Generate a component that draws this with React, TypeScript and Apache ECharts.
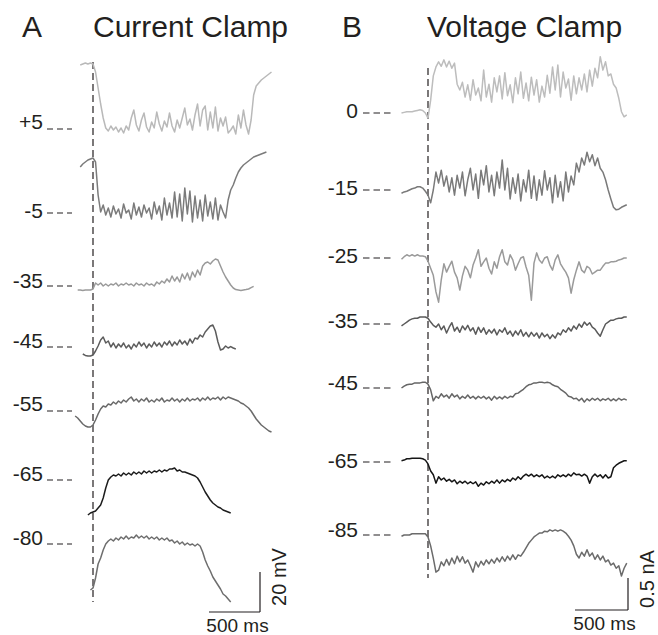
import React, { useEffect, useRef } from "react";
import * as echarts from "echarts";

const W = 658;
const H = 635;
const DT = 25;

// ---------- Panel A : Current clamp (membrane potential, mV) ----------
const A_LABELS = ["+5", "-5", "-35", "-45", "-55", "-65", "-80"];
const A_LEVELS = [5, -5, -35, -45, -55, -65, -80];
const A_STARTS = [-125, -125, -150, -100, -175, -50, -25];

const A_P5 = [37, 37.5, 38, 37.5, 38, 37.5, 33.5, 25.5, 17.5, 10.5, 5.5, 4, 6.5, 4.5, 6, 3.5, 5.5, 3, 6.5, 4.5, 10.5, 14.5, 7, 4, 9.5, 13, 6, 3.5, 8.5, 5.5, 13.5, 7.5, 4, 9, 6, 13, 6.5, 3.5, 9.5, 5.5, 10.5, 15.5, 7, 10, 4.5, 12, 17.5, 6.5, 14.5, 16.5, 4.5, 13.5, 5.5, 16, 4, 10.5, 6.5, 11, 3, 4.5, 6.5, 2.5, 12, 5.5, 14.5, 7, 2.5, 9.5, 22, 26.5, 28, 29.5, 30.5, 31.5, 32.5, 33.5];
const A_M5 = [18, 19.5, 20.5, 21.5, 22, 22.5, 20.5, 4, -4.5, -1, -6, -2.5, -7, -1.5, -5.5, -3, -7.5, -0.5, -5, -3.5, -8, 0, -6, -2, -7, -1, -5, -2.5, -8, 0.5, -5.5, -1.5, -8.5, 2.5, -6, 0, -7.5, 5.5, -7, 4.5, -9, 7.5, -5.5, 6, -9.5, 3.5, -7.5, 1.5, -9, 4, -6.5, 0.5, -8, 2.5, -8.5, -1, -4.5, -7.5, 1.5, 6.5, 9, 12.5, 15.5, 17.5, 19, 20, 21, 22, 23, 23.5, 24, 24.5, 25, 25.5];
const A_M35 = [-37, -37, -37.2, -37, -37, -37, -36.5, -33.5, -34.5, -33.5, -35, -34, -35, -34, -34.5, -33.5, -35, -34, -34.5, -33.5, -34.5, -34, -35, -33.5, -34.5, -34, -35, -33.5, -34.5, -34, -35, -33, -34, -32.5, -33.5, -31.5, -33, -30, -32.5, -30.5, -33, -29, -31.5, -28.5, -32, -28, -30.5, -27, -29.5, -25, -23.5, -23, -24, -22.5, -21.5, -22, -25, -28, -30.5, -32.5, -34.5, -36, -36.8, -37, -37.2, -37, -36.8, -36.5, -35.8, -35.2];
const A_M45 = [-48.5, -49.2, -49.5, -49.5, -49, -47, -44.5, -41.5, -40, -43, -42, -45, -43, -45.5, -43.5, -45, -43, -45.5, -44, -46, -43.5, -45, -42.5, -44.5, -43, -45.5, -43.5, -45, -42.5, -44.5, -43, -45, -42.5, -44, -42, -44.5, -42.5, -44, -41.5, -43.5, -42, -44, -41, -43, -40.5, -41, -39, -40, -37.5, -36, -34.5, -34, -37, -42.5, -46.5, -46, -44.5, -45.5, -44.8, -45.5, -46];
const A_M55 = [-57.5, -58.5, -60, -61.5, -62.5, -63, -63, -62, -59.5, -56.5, -54, -52.5, -53, -51.5, -52, -50.5, -51.5, -50, -51, -49.5, -50.5, -49, -48, -50, -49, -50.5, -49, -50, -48.5, -50.5, -49.5, -50.5, -49, -50, -48.5, -50.5, -49.5, -50, -48.5, -50, -49, -50.5, -49, -50, -48.5, -50, -49, -49.5, -48.5, -50, -48.5, -49.5, -48, -49.5, -48.5, -49, -48, -49.5, -48, -49, -48, -48.5, -49, -49.5, -50, -51, -51.5, -52.5, -53.5, -55, -57, -59, -60.5, -62, -63, -64, -65, -65.5];
const A_M65 = [-82.5, -81.5, -81, -80.5, -79, -77.5, -74, -69, -65, -63.5, -62.5, -63, -62, -63, -61.5, -62.5, -61.5, -62.5, -61, -62, -61, -62, -60.5, -61.5, -60.5, -61.5, -60.5, -61, -60, -61, -60, -60.5, -59.5, -59.5, -59, -60.5, -60, -61, -61, -61.5, -62, -62.5, -63, -64, -66, -68.5, -71, -73, -75, -76.5, -77.5, -78.5, -79, -80, -80.5, -81, -81.5];
const A_M80 = [-103, -102, -97, -90, -87, -83, -80, -78.5, -77.5, -78.5, -77, -78, -76.5, -77.5, -76, -77.5, -76.5, -77, -75.5, -77, -76, -77, -76, -77.5, -76.5, -77.5, -76.5, -78, -77, -78, -77, -78.5, -78, -79.5, -78.5, -80, -79, -80.5, -79.5, -80.5, -80, -81, -80, -81, -84, -88, -91, -93.5, -96.5, -98.5, -100.5, -102.5, -105, -106, -107.5, -109];
const A_VALUES = [A_P5, A_M5, A_M35, A_M45, A_M55, A_M65, A_M80];

// ---------- Panel B : Voltage clamp (current relative to holding, nA) ----------
const B_LABELS = ["0", "-15", "-25", "-35", "-45", "-65", "-85"];
const B_START = -250;

const B_0 = [0, 0.01, 0.02, 0.02, 0.02, 0.03, 0.04, 0.05, 0.04, 0, -0.08, 0.2, 0.58, 0.72, 0.8, 0.73, 0.83, 0.72, 0.81, 0.7, 0.78, 0.45, 0.36, 0.48, 0.25, 0.44, 0.2, 0.52, 0.28, 0.39, 0.19, 0.67, 0.25, 0.45, 0.17, 0.55, 0.33, 0.58, 0.22, 0.63, 0.27, 0.44, 0.16, 0.55, 0.3, 0.64, 0.23, 0.47, 0.19, 0.56, 0.28, 0.52, 0.17, 0.42, 0.25, 0.59, 0.31, 0.72, 0.36, 0.75, 0.25, 0.64, 0.39, 0.53, 0.2, 0.58, 0.3, 0.55, 0.36, 0.61, 0.33, 0.67, 0.42, 0.7, 0.55, 0.88, 0.67, 0.8, 0.58, 0.61, 0.45, 0.39, 0.23, 0.02, -0.06, -0.03];
const B_M15 = [-0.05, -0.03, -0.02, 0, 0.02, 0.03, 0.05, 0.05, 0.03, -0.02, -0.08, -0.2, 0, 0.28, 0.11, 0.31, 0.06, 0.22, -0.03, 0.19, -0.08, 0.23, 0.03, 0.28, -0.09, 0.16, 0.34, 0, 0.25, -0.13, 0.31, 0.08, 0.38, -0.03, 0.23, -0.09, 0.28, 0.03, 0.47, 0, 0.34, -0.14, 0.19, -0.05, 0.25, -0.17, 0.16, -0.03, 0.31, -0.13, 0.22, -0.16, 0.16, -0.08, 0.3, 0, 0.19, -0.2, 0.23, -0.11, 0.13, -0.17, 0.28, -0.03, 0.22, 0.08, 0.42, 0.28, 0.5, 0.39, 0.59, 0.44, 0.55, 0.38, 0.5, 0.34, 0.28, 0.16, 0, -0.14, -0.27, -0.31, -0.3, -0.27, -0.25, -0.23];
const B_M25 = [-0.02, 0.02, 0.05, 0.03, 0.05, 0.03, 0.05, 0.03, 0.03, 0.02, -0.05, -0.16, -0.27, -0.53, -0.69, -0.34, -0.09, -0.22, -0.13, -0.05, -0.22, -0.31, -0.5, -0.28, -0.13, -0.19, -0.31, -0.11, 0, 0.13, -0.13, -0.06, 0, -0.16, -0.25, -0.06, -0.16, 0.02, 0.13, -0.06, -0.11, 0.05, -0.03, -0.19, -0.09, 0, 0.02, -0.14, -0.27, -0.66, -0.08, 0.08, -0.03, -0.08, 0, 0.02, -0.11, -0.19, -0.03, 0.05, -0.09, -0.16, -0.22, -0.31, -0.55, -0.34, -0.19, -0.06, -0.19, -0.23, -0.13, -0.16, -0.25, -0.22, -0.19, -0.19, -0.13, -0.08, -0.08, -0.06, -0.06, -0.05, -0.03, -0.02, 0, 0];
const B_M35 = [-0.03, 0, 0.03, 0.06, 0.08, 0.09, 0.09, 0.11, 0.11, 0.11, 0.09, 0.03, -0.02, -0.05, 0, -0.09, -0.03, -0.14, -0.05, 0.02, -0.11, -0.05, -0.13, -0.03, -0.09, -0.02, -0.11, -0.06, -0.16, -0.05, -0.13, -0.06, -0.16, -0.09, -0.14, -0.08, -0.17, -0.09, -0.13, -0.06, -0.16, -0.11, -0.19, -0.11, -0.17, -0.09, -0.19, -0.13, -0.2, -0.13, -0.19, -0.14, -0.22, -0.14, -0.2, -0.16, -0.23, -0.17, -0.22, -0.14, -0.17, -0.09, -0.13, -0.06, -0.11, -0.03, -0.08, 0, -0.05, 0.03, -0.02, 0.02, -0.05, -0.08, -0.14, -0.19, -0.09, 0, 0.03, 0.06, 0.06, 0.08, 0.09, 0.09, 0.11, 0.11];
const B_M45 = [0, 0.03, 0.05, 0.06, 0.06, 0.08, 0.08, 0.08, 0.09, 0.09, 0.06, -0.03, -0.2, -0.13, -0.16, -0.09, -0.14, -0.11, -0.16, -0.09, -0.14, -0.11, -0.17, -0.13, -0.16, -0.11, -0.16, -0.13, -0.17, -0.13, -0.16, -0.13, -0.17, -0.14, -0.19, -0.13, -0.17, -0.14, -0.17, -0.13, -0.16, -0.13, -0.14, -0.09, -0.08, -0.05, -0.02, 0.02, 0.05, 0.06, 0.08, 0.08, 0.09, 0.09, 0.08, 0.09, 0.08, 0.05, 0.03, 0.02, -0.02, -0.05, -0.08, -0.13, -0.14, -0.17, -0.16, -0.2, -0.16, -0.22, -0.17, -0.2, -0.16, -0.19, -0.16, -0.2, -0.17, -0.19, -0.16, -0.2, -0.17, -0.2, -0.16, -0.19, -0.17, -0.19];
const B_M65 = [0.02, 0.03, 0.05, 0.05, 0.06, 0.06, 0.06, 0.06, 0.05, 0.03, -0.03, -0.14, -0.2, -0.33, -0.23, -0.28, -0.25, -0.3, -0.27, -0.31, -0.28, -0.34, -0.3, -0.33, -0.3, -0.34, -0.31, -0.34, -0.31, -0.38, -0.33, -0.36, -0.31, -0.34, -0.3, -0.33, -0.28, -0.33, -0.28, -0.31, -0.27, -0.3, -0.25, -0.28, -0.23, -0.27, -0.22, -0.19, -0.22, -0.19, -0.23, -0.2, -0.23, -0.2, -0.25, -0.22, -0.25, -0.22, -0.25, -0.2, -0.23, -0.2, -0.23, -0.19, -0.22, -0.17, -0.2, -0.19, -0.22, -0.19, -0.22, -0.33, -0.23, -0.19, -0.23, -0.2, -0.25, -0.2, -0.25, -0.23, -0.09, -0.05, -0.02, 0, 0.02, 0.02];
const B_M85 = [-0.02, 0, 0, 0, 0.02, 0.02, 0.02, 0.02, 0.02, 0.02, -0.03, -0.17, -0.36, -0.58, -0.55, -0.42, -0.48, -0.38, -0.47, -0.36, -0.45, -0.33, -0.42, -0.34, -0.44, -0.39, -0.48, -0.58, -0.42, -0.5, -0.41, -0.47, -0.39, -0.45, -0.38, -0.44, -0.36, -0.42, -0.34, -0.41, -0.33, -0.39, -0.31, -0.38, -0.31, -0.33, -0.27, -0.2, -0.13, -0.08, -0.03, 0, 0.03, 0.03, 0.06, 0.05, 0.08, 0.06, 0.08, 0.06, 0.08, 0.06, 0.03, -0.02, -0.08, -0.17, -0.3, -0.36, -0.27, -0.33, -0.23, -0.33, -0.28, -0.38, -0.31, -0.39, -0.33, -0.42, -0.39, -0.47, -0.44, -0.52, -0.48, -0.64, -0.52, -0.44];
const B_VALUES = [B_0, B_M15, B_M25, B_M35, B_M45, B_M65, B_M85];

// ---------- Layout & style ----------
const A_COLORS = ["#b9b9b9", "#7b7b7b", "#9a9a9a", "#5c5c5c", "#6a6a6a", "#1c1c1c", "#6e6e6e"];
const B_COLORS = ["#bdbdbd", "#7a7a7a", "#9a9a9a", "#5a5a5a", "#666666", "#161616", "#6b6b6b"];
const A_ROW_Y = [129, 213, 286, 347, 411, 480, 544];
const B_ROW_Y = [113, 190, 258, 324, 388, 462, 535];
const A_LABEL_DY = [-7.5, -3, -6, -7, -7.5, -7, -7];
const B_LABEL_DY = [-3, -3, -3, -4, -6, -2, -6];

const PANEL_A = {
  stimX: 93, pxPerMs: 0.102, pxPerUnit: 2, tMin: -500, tMax: 1900,
  dashX: [47, 72], dashPattern: [6, 4], labelRight: 43, stimY: [62, 602],
  barCorner: [260, 612], barT: 500, barV: 20, barVText: "20 mV",
  letter: "A", letterX: 22, title: "Current Clamp", titleX: 93,
};
const PANEL_B = {
  stimX: 428, pxPerMs: 0.106, pxPerUnit: 64, tMin: -700, tMax: 2000,
  dashX: [363, 392], dashPattern: [6.5, 4], labelRight: 358, stimY: [68, 578],
  barCorner: [628, 610], barT: 500, barV: 0.5, barVText: "0.5 nA",
  letter: "B", letterX: 342, title: "Voltage Clamp", titleX: 427,
};

const INK = "#231f20";
const FONT = '"Liberation Sans", Arial, Helvetica, sans-serif';

function toPairs(start: number, values: number[]) {
  return values.map((v, i) => [start + DT * i, v]);
}

export default function App() {
  const ref = useRef<HTMLDivElement>(null);

  useEffect(() => {
    document.body.style.margin = "0";
    const chart = echarts.init(ref.current as HTMLDivElement, undefined, {
      renderer: "svg",
      width: W,
      height: H,
    });

    type Tr = { panel: any; level: number; rowY: number; labelDy: number; label: string; color: string; data: number[][] };
    const traces: Tr[] = [];
    A_VALUES.forEach((vals, i) =>
      traces.push({ panel: PANEL_A, level: A_LEVELS[i], rowY: A_ROW_Y[i], labelDy: A_LABEL_DY[i], label: A_LABELS[i], color: A_COLORS[i], data: toPairs(A_STARTS[i], vals) })
    );
    B_VALUES.forEach((vals, i) =>
      traces.push({ panel: PANEL_B, level: 0, rowY: B_ROW_Y[i], labelDy: B_LABEL_DY[i], label: B_LABELS[i], color: B_COLORS[i], data: toPairs(B_START, vals) })
    );

    const grid = traces.map((tr) => ({
      left: tr.panel.stimX + tr.panel.tMin * tr.panel.pxPerMs,
      width: (tr.panel.tMax - tr.panel.tMin) * tr.panel.pxPerMs,
      top: 0,
      height: H,
      containLabel: false,
    }));
    const xAxis = traces.map((tr, i) => ({
      type: "value", gridIndex: i, min: tr.panel.tMin, max: tr.panel.tMax, show: false,
    }));
    const yAxis = traces.map((tr, i) => ({
      type: "value", gridIndex: i, show: false, scale: true,
      max: tr.level + tr.rowY / tr.panel.pxPerUnit,
      min: tr.level - (H - tr.rowY) / tr.panel.pxPerUnit,
    }));
    const series = traces.map((tr, i) => ({
      type: "line", xAxisIndex: i, yAxisIndex: i, data: tr.data,
      symbol: "none", showSymbol: false, silent: true, clip: false,
      lineStyle: { color: tr.color, width: 1.5, join: "round" },
    }));

    chart.setOption({ animation: false, grid, xAxis, yAxis, series });

    const g: any[] = [];
    const text = (t: string, x: number, y: number, size: number, align: string, rotation = 0) => ({
      type: "text", x, y, rotation, silent: true,
      style: {
        text: t, font: `${size}px ${FONT}`, fill: INK,
        align, verticalAlign: "middle", textAlign: align, textVerticalAlign: "middle",
      },
    });
    const line = (x1: number, y1: number, x2: number, y2: number, dash?: number[]) => ({
      type: "line", silent: true,
      shape: { x1, y1, x2, y2 },
      style: { stroke: INK, lineWidth: 1.2, lineDash: dash || null },
    });

    // reference-level dashes and labels
    traces.forEach((tr, i) => {
      const p = chart.convertToPixel({ gridIndex: i }, [0, tr.level]) as number[];
      const y = p[1];
      g.push(line(tr.panel.dashX[0], y, tr.panel.dashX[1], y, tr.panel.dashPattern));
      g.push(text(tr.label, tr.panel.labelRight, y + tr.labelDy, 21, "right"));
    });

    [PANEL_A, PANEL_B].forEach((panel) => {
      const gi = traces.map((t) => t.panel).lastIndexOf(panel);
      const origin = chart.convertToPixel({ gridIndex: gi }, [0, 0]) as number[];
      const tEnd = chart.convertToPixel({ gridIndex: gi }, [panel.barT, 0]) as number[];
      const vEnd = chart.convertToPixel({ gridIndex: gi }, [0, panel.barV]) as number[];
      const lenX = tEnd[0] - origin[0];
      const lenY = origin[1] - vEnd[1];
      // stimulus onset
      g.push(line(origin[0], panel.stimY[0], origin[0], panel.stimY[1], [7, 4]));
      // scale bars
      const [cx, cy] = panel.barCorner;
      g.push(line(cx - lenX, cy, cx, cy));
      g.push(line(cx, cy - lenY, cx, cy));
      g.push(text(`${panel.barT} ms`, cx - lenX / 2 + 3, cy + 13, 19, "center"));
      g.push(text(panel.barVText, cx + 19, cy - lenY / 2 - 15, 20, "center", Math.PI / 2));
      // titles
      g.push(text(panel.letter, panel.letterX, 26, 30, "left"));
      g.push(text(panel.title, panel.titleX, 26, 30, "left"));
    });

    chart.setOption({ graphic: g });

    return () => chart.dispose();
  }, []);

  return <div ref={ref} style={{ width: W, height: H }} />;
}
